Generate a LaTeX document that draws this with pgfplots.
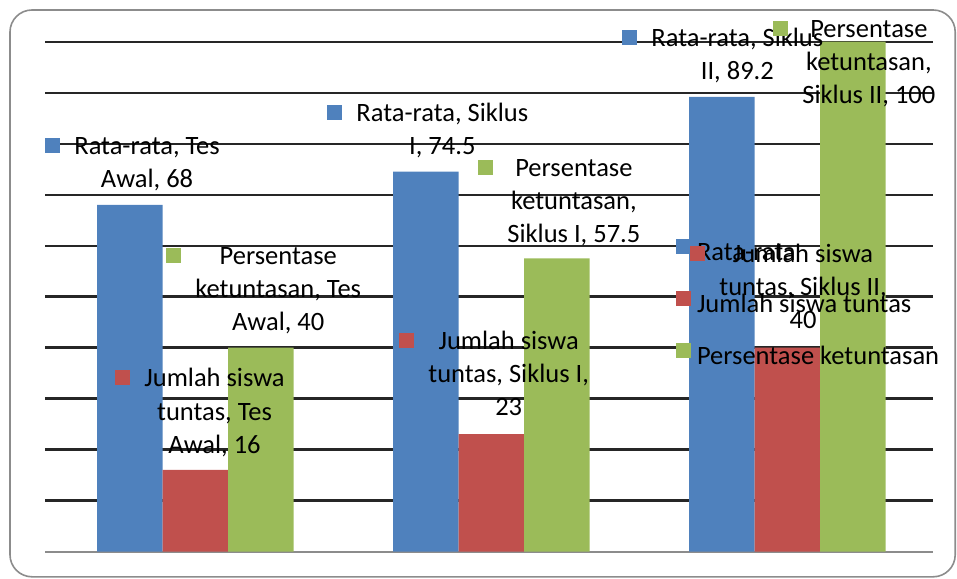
\documentclass[border=0pt]{standalone}
\usepackage{pgfplots}
\pgfplotsset{compat=1.18}
\usepackage{fontspec}
\setmainfont{Carlito}
\definecolor{cblue}{HTML}{4F81BD}
\definecolor{cred}{HTML}{C0504D}
\definecolor{cgreen}{HTML}{9BBB59}
\newcommand{\lfont}{\fontsize{13.25}{16.5}\selectfont}
\newcommand{\dl}[4]{\node[anchor=base west, inner sep=0pt, font=\lfont] at ({#1*0.5pt},{(578-#2)*0.5pt}) {\raisebox{1pt}{\textcolor{#3}{\rule{7.5pt}{7.5pt}}}\hspace{7pt}\begin{tabular}[t]{@{}c@{}}#4\end{tabular}};}
\begin{document}
\begin{tikzpicture}
\useasboundingbox (0,0) rectangle (478.5pt,289pt);
\draw[color=black!45, line width=0.8pt, rounded corners=11pt] (5pt,0.6pt) rectangle (477.6pt,284pt);
\begin{axis}[at={(22.5pt,13.25pt)}, anchor=south west, scale only axis,
  width=444pt, height=254.9pt,
  xmin=-0.508, xmax=2.492, ymin=0, ymax=100,
  ybar=0pt, bar width=0.2213,
  axis line style={draw=none},
  xtick=\empty, ytick={10,20,...,100}, yticklabels={},
  major tick length=0pt,
  ymajorgrids, grid style={black!85, line width=1.1pt},
  extra y ticks={0}, extra y tick labels={},
  extra y tick style={grid style={black!45, line width=1pt}},
  clip=false,
  legend cell align=left,
  legend style={draw=none, fill=none, at={(0.7106,0.613)}, anchor=north west,
    inner sep=0pt, outer sep=0pt, font=\lfont, row sep=13pt, column sep=3pt,
    nodes={inner sep=0pt, text height=9pt, text depth=2pt}},
  legend image code/.code={\fill[#1] (0pt,0pt) rectangle (7.5pt,7.5pt);},
]
\addplot[fill=cblue, draw=none] coordinates {(0,68) (1,74.5) (2,89.2)};
\addplot[fill=cred, draw=none] coordinates {(0,16) (1,23) (2,40)};
\addplot[fill=cgreen, draw=none] coordinates {(0,40) (1,57.5) (2,100)};
\legend{Rata-rata, Jumlah siswa tuntas, Persentase ketuntasan}
\end{axis}
\dl{45}{155}{cblue}{Rata-rata, Tes\\Awal, 68}
\dl{327}{122}{cblue}{Rata-rata, Siklus\\I, 74.5}
\dl{622}{47}{cblue}{Rata-rata, Siklus\\II, 89.2}
\dl{115}{387}{cred}{Jumlah siswa\\tuntas, Tes\\Awal, 16}
\dl{399}{350}{cred}{Jumlah siswa\\tuntas, Siklus I,\\23}
\dl{690}{263}{cred}{Jumlah siswa\\tuntas, Siklus II,\\40}
\dl{166}{265}{cgreen}{Persentase\\ketuntasan, Tes\\Awal, 40}
\dl{478}{177}{cgreen}{Persentase\\ketuntasan,\\Siklus I, 57.5}
\dl{773}{38}{cgreen}{Persentase\\ketuntasan,\\Siklus II, 100}
\end{tikzpicture}
\end{document}
